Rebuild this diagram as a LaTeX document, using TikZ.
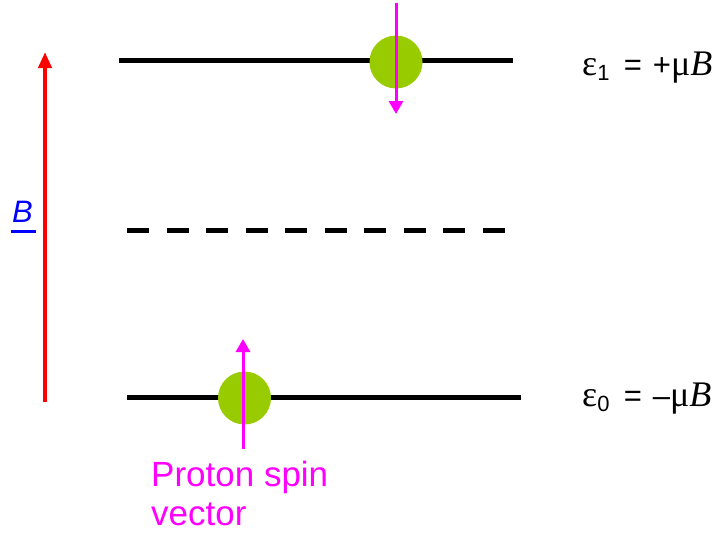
\documentclass[tikz,border=0pt]{standalone}
\usepackage{fontspec}
\setmainfont{Liberation Sans}
\newfontfamily\serifface{Liberation Serif}
\usetikzlibrary{arrows.meta}
\definecolor{spin}{HTML}{FF00FF}
\definecolor{proton}{HTML}{99CC00}
\definecolor{fieldred}{HTML}{FF0000}
\definecolor{fieldblue}{HTML}{0000FF}
\begin{document}
\begin{tikzpicture}[x=1pt,y=-1pt,
  level/.style={line width=5pt,black},
  midlevel/.style={line width=5pt,black,dash pattern=on 22pt off 17.5pt},
  particle/.style={circle,fill=proton,draw=none,minimum size=53pt,inner sep=0pt},
  spinarrow/.style={line width=3pt,spin,-{Triangle[length=13pt,width=14pt]}},
  fieldarrow/.style={line width=4pt,fieldred,-{Triangle[length=16pt,width=13pt]}},
  energy/.style={anchor=base west,inner sep=0pt,font=\fontsize{36}{36}\selectfont}]
\useasboundingbox (0,0) rectangle (714,533);

% energy levels
\coordinate (u1) at (119,60.5);
\coordinate (u2) at (513,60.5);
\coordinate (m1) at (127,230);
\coordinate (m2) at (508,230);
\coordinate (l1) at (127,397.5);
\coordinate (l2) at (521,397.5);
\draw[level] (u1) -- (u2);
\draw[midlevel] (m1) -- (m2);
\draw[level] (l1) -- (l2);

% protons
\node[particle] (pup) at (396,62) {};
\node[particle] (plo) at (244.5,398) {};

% spin vectors
\coordinate (s1a) at (396,3);
\coordinate (s1b) at (396,114);
\coordinate (s0a) at (243,449);
\coordinate (s0b) at (243,339);
\draw[spinarrow] (s1a) -- (s1b);
\draw[spinarrow] (s0a) -- (s0b);

% field direction
\coordinate (f0) at (45,402);
\coordinate (f1) at (45,52);
\draw[fieldarrow] (f0) -- (f1);
\node[anchor=base west,inner sep=0pt,text=fieldblue,font=\fontsize{31}{31}\selectfont\itshape] (blabel) at (12,222) {B};
\draw[fieldblue,line width=3pt] (11,231.5) -- (35.5,231.5);

% energy labels
\node[energy] (e1) at (582,75) {{\serifface ε}\raisebox{-0.16em}{\fontsize{22}{22}\selectfont 1}\hspace{0.4em}{\fontsize{31}{31}\selectfont =\hspace{0.35em}+}{\serifface μ\textit{B}}};
\node[energy] (e0) at (582,406) {{\serifface ε}\raisebox{-0.16em}{\fontsize{22}{22}\selectfont 0}\hspace{0.4em}{\fontsize{31}{31}\selectfont =\hspace{0.35em}–}{\serifface μ\textit{B}}};

% caption
\node[anchor=north west,inner sep=0pt,align=left,text=spin,font=\fontsize{35}{39}\selectfont] (cap) at (151,461) {Proton spin\\vector};
\end{tikzpicture}
\end{document}
